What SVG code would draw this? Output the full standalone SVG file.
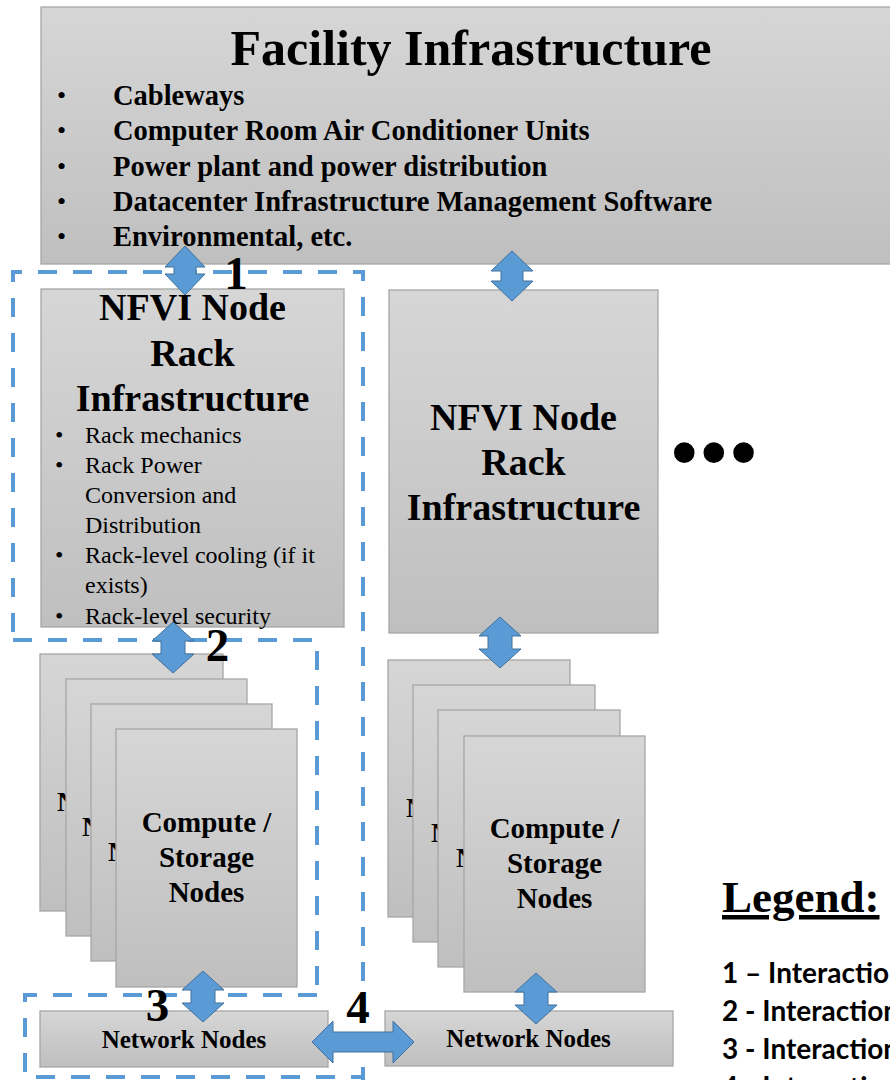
<svg xmlns="http://www.w3.org/2000/svg" width="890" height="1080" viewBox="0 0 890 1080">
<defs>
<linearGradient id="g" x1="0" y1="0" x2="0" y2="1">
<stop offset="0" stop-color="#d6d6d6"/>
<stop offset="1" stop-color="#bfbfbf"/>
</linearGradient>
</defs>
<style>
.box{fill:url(#g);stroke:#a6a6a6;stroke-width:1.3}
.arr{fill:#5b9bd5;stroke:#41719c;stroke-width:1}
.dash{fill:none;stroke:#5b9bd5;stroke-width:4;stroke-dasharray:19 16}
.tb{font-family:"Liberation Serif","Times New Roman",serif;font-weight:bold;fill:#000}
.tr{font-family:"Liberation Serif","Times New Roman",serif;fill:#000}
.lbl{font-size:47px;text-anchor:middle}
.lg{font-family:Lato,"Liberation Sans",sans-serif;font-weight:bold;font-size:28px;fill:#000}
.ct{font-size:29px;text-anchor:middle}
.nn{font-size:25px;text-anchor:middle}
.rt{font-size:38px;text-anchor:middle}
.fb{font-size:28.5px}
.rb{font-size:24px}
.bul{font-family:"Liberation Serif","Times New Roman",serif;font-size:26px;fill:#000}
</style>
<rect width="890" height="1080" fill="#fff"/>

<g id="facility">
<rect class="box" x="41" y="7" width="870" height="257"/>
<text class="tb" x="471" y="65" font-size="50" text-anchor="middle">Facility Infrastructure</text>
<g class="bul">
<text x="57" y="104">•</text>
<text x="57" y="139">•</text>
<text x="57" y="175">•</text>
<text x="57" y="210">•</text>
<text x="57" y="245">•</text>
</g>
<g class="tb fb">
<text x="113" y="105">Cableways</text>
<text x="113" y="140">Computer Room Air Conditioner Units</text>
<text x="113" y="176">Power plant and power distribution</text>
<text x="113" y="211">Datacenter Infrastructure Management Software</text>
<text x="113" y="246">Environmental, etc.</text>
</g>
</g>

<g id="rack-left">
<rect class="box" x="41" y="289" width="303" height="338"/>
<text class="tb rt" x="192.5" y="320">NFVI Node</text>
<text class="tb rt" x="192.5" y="366">Rack</text>
<text class="tb rt" x="192.5" y="411">Infrastructure</text>
<g class="tr rb">
<text x="55" y="443">•</text><text x="85" y="443">Rack mechanics</text>
<text x="55" y="473">•</text><text x="85" y="473">Rack Power</text>
<text x="85" y="503">Conversion and</text>
<text x="85" y="533">Distribution</text>
<text x="55" y="563">•</text><text x="85" y="563">Rack-level cooling (if it</text>
<text x="85" y="593">exists)</text>
<text x="55" y="624">•</text><text x="85" y="624">Rack-level security</text>
</g>
</g>

<g id="rack-right">
<rect class="box" x="389" y="290" width="269" height="343"/>
<text class="tb rt" x="523.5" y="430">NFVI Node</text>
<text class="tb rt" x="523.5" y="475">Rack</text>
<text class="tb rt" x="523.5" y="520">Infrastructure</text>
</g>

<g id="more">
<text class="tb" x="671" y="478" font-size="76" letter-spacing="3">•••</text>
</g>

<g id="compute-left">
<rect class="box" x="40" y="654" width="183" height="257"/>
<text class="tb" x="57" y="811" font-size="28">N</text>
<rect class="box" x="66" y="679" width="181" height="257"/>
<text class="tb" x="82" y="836" font-size="28">N</text>
<rect class="box" x="91" y="704" width="181" height="257"/>
<text class="tb" x="108" y="861" font-size="28">N</text>
<rect class="box" x="116" y="729" width="181" height="258"/>
<text class="tb ct" x="206.5" y="832">Compute /</text>
<text class="tb ct" x="206.5" y="867">Storage</text>
<text class="tb ct" x="206.5" y="902">Nodes</text>
</g>

<g id="compute-right">
<rect class="box" x="388" y="660" width="182" height="257"/>
<text class="tb" x="406" y="817" font-size="28">N</text>
<rect class="box" x="413" y="685" width="182" height="257"/>
<text class="tb" x="431" y="842" font-size="28">N</text>
<rect class="box" x="438" y="710" width="182" height="257"/>
<text class="tb" x="456" y="867" font-size="28">N</text>
<rect class="box" x="464" y="736" width="181" height="256"/>
<text class="tb ct" x="554.5" y="838">Compute /</text>
<text class="tb ct" x="554.5" y="873">Storage</text>
<text class="tb ct" x="554.5" y="908">Nodes</text>
</g>

<g id="network-left">
<rect class="box" x="40" y="1011" width="288" height="56"/>
<text class="tb nn" x="184" y="1048">Network Nodes</text>
</g>

<g id="network-right">
<rect class="box" x="385" y="1011" width="288" height="55"/>
<text class="tb nn" x="528.5" y="1047">Network Nodes</text>
</g>

<g id="interaction-boxes">
<path class="dash" d="M13,632 V272 H363 V1080"/>
<path class="dash" d="M13,640 H317 V995"/>
<path class="dash" d="M317,995 H25 V1077 H363"/>
</g>

<g id="connectors">
<path class="arr" d="M185,246 L205,267 L196,267 L196,274 L205,274 L185,295 L165,274 L174,274 L174,267 L165,267 Z"/>
<path class="arr" d="M512,251 L533,271 L523,271 L523,281 L533,281 L512,301 L491,281 L501,281 L501,271 L491,271 Z"/>
<path class="arr" d="M173,622 L194,641 L185,641 L185,654 L194,654 L173,673 L152,654 L161,654 L161,641 L152,641 Z"/>
<path class="arr" d="M500,617 L521,636 L512,636 L512,649 L521,649 L500,668 L479,649 L488,649 L488,636 L479,636 Z"/>
<path class="arr" d="M203,971 L224,990 L215,990 L215,1003 L224,1003 L203,1022 L182,1003 L191,1003 L191,990 L182,990 Z"/>
<path class="arr" d="M536,973 L557,992 L548,992 L548,1005 L557,1005 L536,1024 L515,1005 L524,1005 L524,992 L515,992 Z"/>
<path class="arr" d="M312,1042 L333,1021 L333,1032 L393,1032 L393,1021 L414,1042 L393,1063 L393,1052 L333,1052 L333,1063 Z"/>
</g>

<g id="labels" class="tb lbl">
<text x="236" y="289">1</text>
<text x="217.5" y="661">2</text>
<text x="157.5" y="1021">3</text>
<text x="358" y="1023">4</text>
</g>

<g id="legend">
<text class="tb" x="722" y="912" font-size="45" text-decoration="underline">Legend:</text>
<text class="lg" x="722" y="983">1 – Interaction</text>
<text class="lg" x="722" y="1021">2 - Interaction</text>
<text class="lg" x="722" y="1059">3 - Interaction</text>
<text class="lg" x="722" y="1097">4 - Interaction</text>
</g>
</svg>
